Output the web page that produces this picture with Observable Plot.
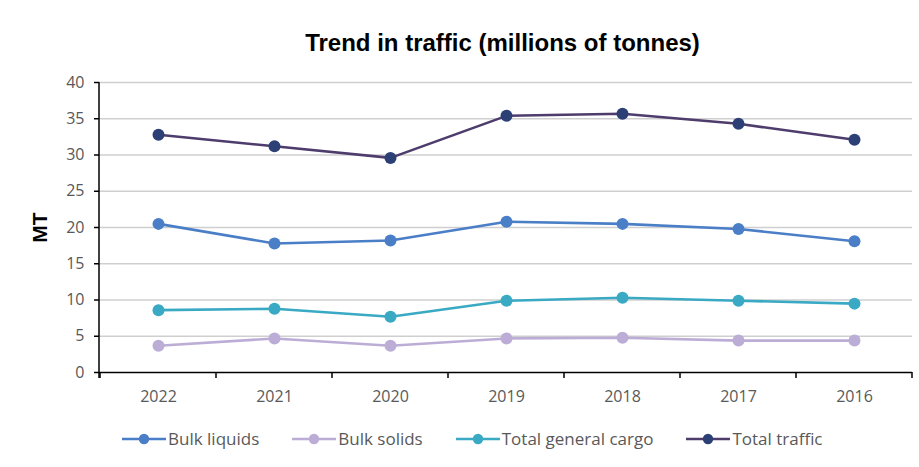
<!DOCTYPE html>
<html>
<head>
<meta charset="utf-8">
<script src="https://cdn.jsdelivr.net/npm/d3@7"></script>
<script src="https://cdn.jsdelivr.net/npm/@observablehq/plot@0.6"></script>
<style>
  body { margin: 0; background: #fff; width: 919px; height: 467px; overflow: hidden; }
  #title { font-family: "Liberation Sans", Arial, sans-serif; font-weight: bold; font-size: 24px;
           text-align: center; padding-top: 27px; height: 31px; line-height: 31px; color: #000; padding-left: 86px; }
  #legend { display: flex; justify-content: flex-start; align-items: center; gap: 32px;
            font-family: "Open Sans", sans-serif; font-size: 17px; color: #595959; margin-top: 15px; padding-left: 121px; }
  .item { display: flex; align-items: center; }
  .item svg { margin-right: 1px; }
</style>
</head>
<body>
<div id="title">Trend in traffic (millions of tonnes)</div>
<div id="chart"></div>
<div id="legend"></div>
<script>
const years = ["2022", "2021", "2020", "2019", "2018", "2017", "2016"];
const seriesNames = ["Bulk liquids", "Bulk solids", "Total general cargo", "Total traffic"];
const bulkLiquids = [20.5, 17.8, 18.2, 20.8, 20.5, 19.8, 18.1];
const bulkSolids = [3.7, 4.7, 3.7, 4.7, 4.8, 4.4, 4.4];
const totalGeneralCargo = [8.6, 8.8, 7.7, 9.9, 10.3, 9.9, 9.5];
const totalTraffic = [32.8, 31.2, 29.6, 35.4, 35.7, 34.3, 32.1];
const yTicks = [0, 5, 10, 15, 20, 25, 30, 35, 40];
const lineColors = ["#4a7ec6", "#bcadd6", "#3aa9c4", "#4d3c6c"];
const dotColors = ["#4a7ec6", "#bcadd6", "#3aa9c4", "#2c4076"];

const allValues = [bulkLiquids, bulkSolids, totalGeneralCargo, totalTraffic];
const data = [];
seriesNames.forEach((s, i) => years.forEach((y, j) => data.push({series: s, year: y, value: allValues[i][j]})));

// custom axes lines + boundary ticks using the Plot scales
function axisDecor(index, scales, values, dims) {
  const g = d3.create("svg:g");
  const x = scales.x;
  const dom = x.domain();
  const step = x.step();
  const yb = dims.height - dims.marginBottom;
  g.append("line").attr("x1", dims.marginLeft).attr("x2", dims.marginLeft)
    .attr("y1", dims.marginTop).attr("y2", yb + 6).attr("stroke", "#000").attr("stroke-width", 1.5);
  const bounds = dom.map(d => x(d) - step / 2).concat([x(dom[dom.length - 1]) + step / 2]);
  bounds.forEach(b => {
    g.append("line").attr("x1", b).attr("x2", b).attr("y1", yb).attr("y2", yb + 6)
      .attr("stroke", "#000").attr("stroke-width", 1.5);
  });
  return g.node();
}

const chart = Plot.plot({
  width: 919,
  height: 354,
  marginLeft: 99,
  marginRight: 7,
  marginTop: 24,
  marginBottom: 40,
  style: { fontFamily: "'Open Sans', sans-serif", fontSize: "16px", color: "#595959", background: "#fff" },
  x: { type: "point", domain: years, padding: 0.5, label: null },
  y: { domain: [0, 40], ticks: yTicks, label: null },
  color: { domain: seriesNames, range: lineColors },
  marks: [
    Plot.ruleY(yTicks.filter(t => t > 0), { stroke: "#cfcfcf", strokeWidth: 1.5 }),
    Plot.axisY({ ticks: yTicks, tickSize: 5, tickPadding: 10, stroke: "#000", strokeWidth: 1.5, label: null, fill: "#595959" }),
    Plot.axisX({ tickSize: 0, tickPadding: 18, label: null, fill: "#595959" }),
    Plot.ruleY([0], { stroke: "#000", strokeWidth: 1.5 }),
    axisDecor,
    Plot.line(data, { x: "year", y: "value", z: "series", stroke: "series", strokeWidth: 2.6 }),
    Plot.dot(data, { x: "year", y: "value", r: 6, fill: d => dotColors[seriesNames.indexOf(d.series)], stroke: "none" }),
    Plot.text(["MT"], { frameAnchor: "left", textAnchor: "middle", dx: -59, rotate: -90, fontWeight: "bold", fontSize: 21, fill: "#000",
      fontFamily: "'Liberation Sans', Arial, sans-serif" })
  ]
});
document.getElementById("chart").appendChild(chart);

const legend = d3.select("#legend");
seriesNames.forEach((s, i) => {
  const it = legend.append("div").attr("class", "item");
  const sv = it.append("svg").attr("width", 46).attr("height", 14);
  sv.append("line").attr("x1", 1).attr("x2", 45).attr("y1", 7).attr("y2", 7).attr("stroke", lineColors[i]).attr("stroke-width", 2.7);
  sv.append("circle").attr("cx", 23).attr("cy", 7).attr("r", 5.2).attr("fill", dotColors[i]);
  it.append("span").text(s);
});
</script>
</body>
</html>
